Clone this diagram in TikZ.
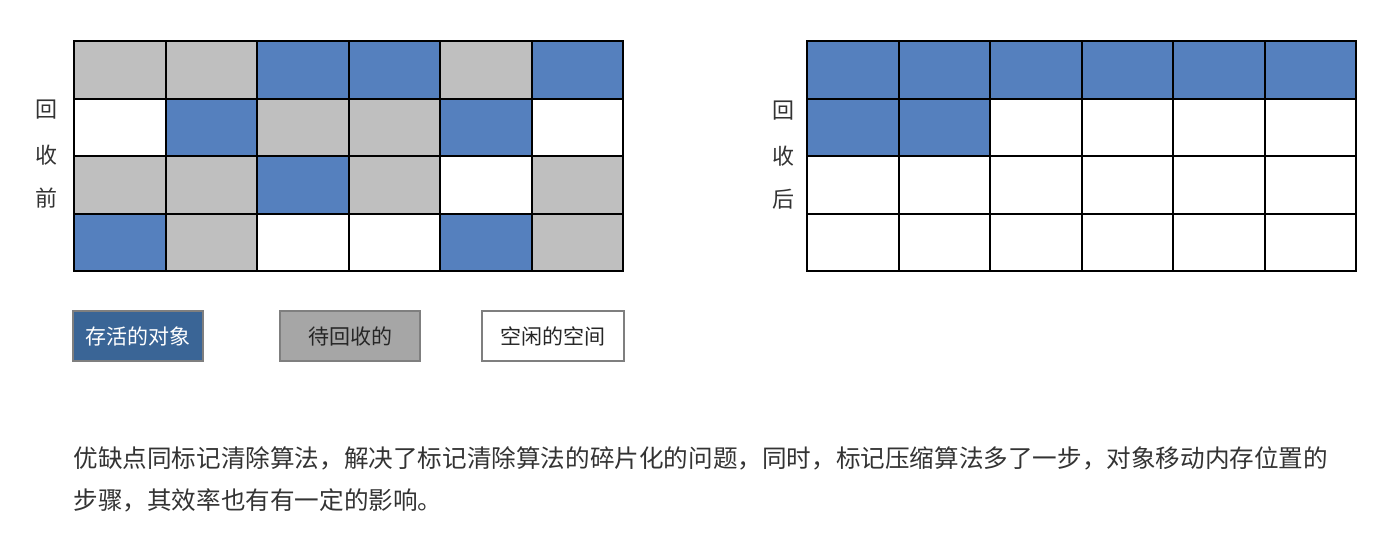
\documentclass[tikz,border=0pt]{standalone}
\usepackage{fontspec}
\setmainfont{Noto Sans CJK SC}
\usepackage{tikz}
\usetikzlibrary{positioning}
\usepackage{xcolor}
\definecolor{colB}{HTML}{5580BE}
\definecolor{colG}{HTML}{BFBFBF}
\definecolor{colW}{HTML}{FFFFFF}
\definecolor{legblue}{HTML}{3A6596}
\definecolor{leggray}{HTML}{A6A6A6}
\definecolor{legline}{HTML}{7F7F7F}
\definecolor{notetext}{HTML}{333333}

\begin{document}
\begin{tikzpicture}[x=0.5pt, y=-0.5pt,
  cell/.style={draw, line width=1pt, minimum width=45.75pt,
               minimum height=28.75pt, inner sep=0pt, outer sep=0pt,
               anchor=north west},
  side/.style={font=\fontsize{11}{13}\selectfont, text=black!80},
  legend/.style={draw=legline, line width=1pt, minimum width=65pt,
                 minimum height=25pt, inner sep=0pt,
                 font=\fontsize{10.5}{12}\selectfont},
  note/.style={anchor=west, inner sep=0pt, text=notetext,
               font=\fontsize{12.3}{15}\selectfont},
]
  \useasboundingbox (0,0) rectangle (1387,554);

  % before collection
  \foreach \row [count=\r from 0] in {{G,G,B,B,G,B},{W,B,G,G,B,W},{G,G,B,G,W,G},{B,G,W,W,B,G}}
    \foreach \c [count=\k from 0] in \row
      \node[cell, fill=col\c] (L-\r-\k) at (74+91.5*\k, 41+57.5*\r) {};

  % after collection
  \foreach \row [count=\r from 0] in {{B,B,B,B,B,B},{B,B,W,W,W,W},{W,W,W,W,W,W},{W,W,W,W,W,W}}
    \foreach \c [count=\k from 0] in \row
      \node[cell, fill=col\c] (R-\r-\k) at (807+91.5*\k, 41+57.5*\r) {};

  \node[side] (pre1) at (46,110) {回};
  \node[side] (pre2) at (46,155) {收};
  \node[side] (pre3) at (46,198) {前};
  \node[side] (post1) at (783,111) {回};
  \node[side] (post2) at (783,156) {收};
  \node[side] (post3) at (783,199) {后};

  % legend
  \node[legend, fill=legblue, text=white] (live) at (138,336) {存活的对象};
  \node[legend, fill=leggray, text=black!85, minimum width=70pt] (dead) at (350,336) {待回收的};
  \node[legend, fill=white, text=black!85, minimum width=71pt] (free) at (553,336) {空闲的空间};

  \node[note] (note1) at (73,458) {优缺点同标记清除算法，解决了标记清除算法的碎片化的问题，同时，标记压缩算法多了一步，对象移动内存位置的};
  \node[note] (note2) at (73,500) {步骤，其效率也有有一定的影响。};
\end{tikzpicture}
\end{document}
